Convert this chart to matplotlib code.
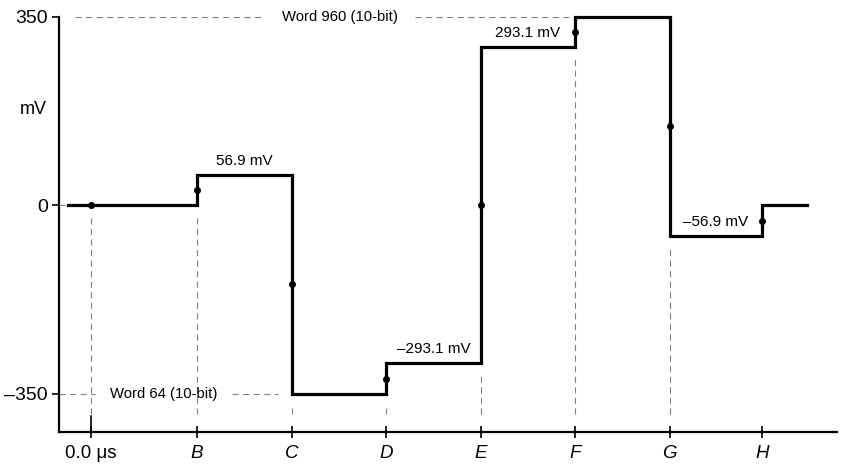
import numpy as np
import matplotlib
matplotlib.use('Agg')
import matplotlib.pyplot as plt

plt.rcParams['font.family'] = ['Liberation Sans', 'DejaVu Sans']

# transition instants (in units of one word period) and the level after each
tick_labels = ['0.0 \u03bcs', 'B', 'C', 'D', 'E', 'F', 'G', 'H']
tick_pos = [0.0, 1.12, 2.12, 3.12, 4.12, 5.12, 6.12, 7.10]
levels = [0.0, 56.9, -350.0, -293.1, 293.1, 350.0, -56.9, 0.0]
t_start, t_end = -0.24, 7.57

# level annotations: (segment index, text)
level_notes = [(1, '56.9 mV'), (3, '\u2013293.1 mV'), (4, '293.1 mV'), (6, '\u201356.9 mV')]

GRAY = '#808080'
DASH = (0, (5.5, 4.0))


def draw_wave(ax):
    xs = [t_start] + tick_pos + [t_end]
    ys = [levels[0]] + levels + [levels[-1]]
    ax.step(xs, ys, where='post', color='black', lw=2.3, solid_joinstyle='miter',
            zorder=3, clip_on=False)
    # sample dots half way through every transition
    prev = [levels[0]] + levels[:-1]
    mids = [(a + b) / 2 for a, b in zip(prev, levels)]
    ax.plot(tick_pos, mids, 'o', color='black', ms=4, zorder=4)

    # dashed drop lines under each transition
    for i, (t, a, b) in enumerate(zip(tick_pos, prev, levels)):
        if tick_labels[i] == 'H':
            continue
        top = min(a, b) - 22
        ax.plot([t, t], [-388, top], color=GRAY, lw=0.8, ls=DASH, zorder=1)
    # longer solid tick at time zero
    ax.plot([tick_pos[0], tick_pos[0]], [-421, -390], color='black', lw=1.2, clip_on=False)

    for i, txt in level_notes:
        xm = (tick_pos[i] + tick_pos[i + 1]) / 2
        ax.text(xm, levels[i] + 26, txt, ha='center', va='center', fontsize=11)


def draw_words(ax):
    # code word reference lines
    ax.plot([-0.17, 1.84], [350, 350], color=GRAY, lw=0.8, ls=DASH)
    ax.plot([3.43, tick_pos[5]], [350, 350], color=GRAY, lw=0.8, ls=DASH)
    ax.text(2.63, 350, 'Word 960 (10-bit)', ha='center', va='center', fontsize=10.7)
    ax.plot([-0.34, 0.04], [-350, -350], color=GRAY, lw=0.8, ls=DASH)
    ax.plot([1.49, 1.98], [-350, -350], color=GRAY, lw=0.8, ls=DASH)
    ax.text(0.77, -350, 'Word 64 (10-bit)', ha='center', va='center', fontsize=10.7)
    ax.plot([-0.34, t_start], [0, 0], color=GRAY, lw=0.8, ls=DASH)


fig = plt.figure(figsize=(8.41, 4.67), dpi=100)
ax = fig.add_axes([0.0702, 0.075, 0.925, 0.889])
ax.set_xlim(-0.34, 7.89)
ax.set_ylim(-420.5, 350)

draw_wave(ax)
draw_words(ax)

for s in ['top', 'right']:
    ax.spines[s].set_visible(False)
for s in ['left', 'bottom']:
    ax.spines[s].set_linewidth(1.6)

ax.set_yticks([350, 0, -350])
ax.set_yticklabels(['350', '0', '\u2013350'], fontsize=14)
ax.tick_params(axis='y', direction='out', length=5, width=1.2, pad=3)

ax.set_xticks(tick_pos)
ax.set_xticklabels(tick_labels, fontsize=13.5)
for lab in ax.get_xticklabels()[1:]:
    lab.set_style('italic')
ax.tick_params(axis='x', direction='inout', length=9, width=1.2, pad=5)

ax.text(-0.61, 178, 'mV', ha='center', va='center', fontsize=13, clip_on=False)

fig.savefig('out.png', dpi=100)
